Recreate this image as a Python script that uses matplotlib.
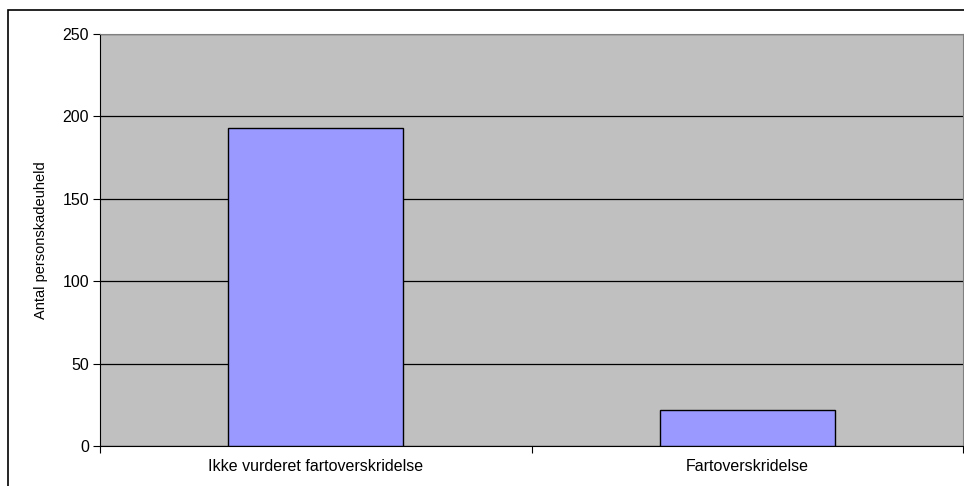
import matplotlib.pyplot as plt
from matplotlib.patches import Rectangle

categories = ['Ikke vurderet fartoverskridelse', 'Fartoverskridelse']
values = [193, 22]
y_ticks = [0, 50, 100, 150, 200, 250]

plt.rcParams['font.family'] = ['Liberation Sans', 'DejaVu Sans']

fig = plt.figure(figsize=(9.64, 4.86), dpi=100)
ax = fig.add_axes([100 / 964, 1 - 446 / 486, 863 / 964, 412 / 486])
ax.set_facecolor('#C0C0C0')

x = range(len(categories))
ax.bar(x, values, width=0.405, color='#9999FF', edgecolor='black', linewidth=1, zorder=3)

ax.set_xlim(-0.5, 1.5)
ax.set_ylim(0, 250)
ax.set_yticks(y_ticks)
ax.set_yticklabels([str(v) for v in y_ticks], fontsize=11.5)
ax.yaxis.grid(True, color='black', linewidth=0.9, zorder=1)

ax.set_xticks([-0.5, 0.5, 1.5])
ax.set_xticklabels([])
ax.set_xticks(list(x), minor=True)
ax.set_xticklabels(categories, minor=True, fontsize=11.5)
ax.tick_params(axis='x', which='minor', length=0, pad=9)
ax.tick_params(axis='x', which='major', length=5, direction='out', color='black')
ax.tick_params(axis='y', length=5, direction='out', pad=3)

ax.spines['left'].set_color('black')
ax.spines['bottom'].set_color('black')
ax.spines['top'].set_color('#808080')
ax.spines['right'].set_color('#808080')

ax.set_ylabel('Antal personskadeuheld', fontsize=10.5, labelpad=10)

# chart outer border
fig.patches.append(Rectangle((8 / 964, -0.05), 2.0, 1 - 10 / 486 + 0.05,
                             transform=fig.transFigure, fill=False,
                             edgecolor='black', linewidth=1.2))

fig.savefig('out.png', dpi=100)
